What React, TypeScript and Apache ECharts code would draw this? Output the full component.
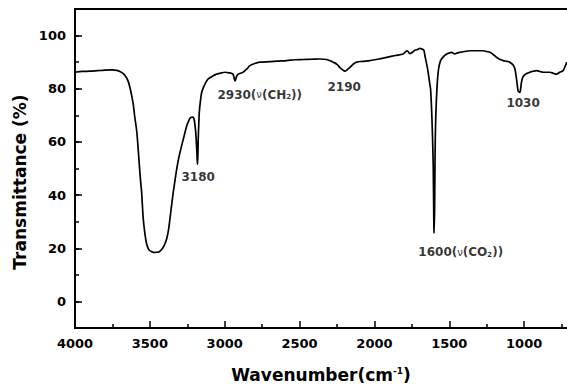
import React, { useEffect, useRef } from "react";
import * as echarts from "echarts";

const wavenumbers = [
  4000, 3950, 3900, 3850, 3800, 3750, 3720, 3700, 3680, 3666, 3650, 3633, 3620, 3611, 3600, 3588, 3577, 3566,
  3555, 3544, 3532, 3521, 3505, 3488, 3470, 3455, 3440, 3421, 3405, 3388, 3375, 3366, 3355, 3344, 3332, 3321,
  3305, 3288, 3270, 3254, 3240, 3228, 3215, 3205, 3198, 3192, 3186, 3182, 3179, 3177, 3173, 3170, 3162, 3154,
  3140, 3125, 3110, 3080, 3054, 3020, 2998, 2970, 2945, 2935, 2930, 2922, 2910, 2880, 2865, 2850, 2832, 2800,
  2765, 2698, 2650, 2587, 2530, 2476, 2420, 2364, 2320, 2290, 2275, 2250, 2231, 2210, 2197, 2185, 2164, 2140,
  2119, 2080, 2030, 1970, 1919, 1860, 1808, 1790, 1780, 1770, 1763, 1745, 1730, 1710, 1697, 1685, 1670, 1663,
  1650, 1641, 1632, 1625, 1618, 1612, 1607, 1603, 1602, 1598, 1595, 1591, 1585, 1578, 1570, 1560, 1552, 1535,
  1518, 1485, 1463, 1445, 1430, 1400, 1363, 1310, 1274, 1250, 1229, 1205, 1184, 1160, 1140, 1115, 1096, 1075,
  1062, 1051, 1040, 1029, 1022, 1018, 1010, 1002, 980, 962, 940, 917, 895, 873, 850, 828, 805, 784, 762, 740,
  724, 715,
];

const transmittance = [
  86.2, 86.5, 86.6, 86.8, 87.0, 87.1, 86.9, 86.5, 85.8, 85.0, 83.5, 80.5, 77.0, 74.2, 69.0, 64.2, 56.6, 48.0,
  41.0, 31.0, 25.0, 21.5, 19.3, 18.7, 18.4, 18.5, 18.6, 19.5, 21.0, 23.5, 27.0, 31.0, 36.0, 41.0, 45.5, 49.7,
  54.5, 58.5, 62.5, 66.0, 68.0, 69.2, 69.3, 68.6, 66.0, 62.3, 56.0, 51.6, 55.0, 61.0, 67.0, 71.0, 75.5, 78.6,
  80.8, 82.5, 83.7, 84.8, 85.5, 86.0, 86.2, 86.0, 85.5, 83.5, 83.0, 84.5, 85.5, 86.1, 86.8, 87.6, 88.7, 89.5,
  90.0, 90.2, 90.4, 90.6, 90.9, 91.0, 91.1, 91.2, 91.0, 90.4, 90.0, 89.2, 88.0, 87.0, 86.6, 87.0, 88.0, 89.3,
  90.0, 90.3, 90.6, 91.2, 91.8, 92.5, 93.1, 94.0, 94.3, 93.6, 93.2, 93.8, 94.5, 94.8, 95.2, 95.0, 94.5, 92.5,
  89.0, 86.2, 82.5, 79.9, 72.0, 62.0, 50.0, 28.3, 25.7, 35.0, 55.0, 68.0, 77.0, 84.0, 88.0, 90.3, 91.2, 92.3,
  93.1, 93.7, 93.1, 93.5, 93.7, 94.0, 94.3, 94.3, 94.3, 94.0, 93.7, 92.8, 91.8, 91.0, 90.6, 90.3, 90.0, 89.0,
  87.5, 83.7, 79.2, 78.6, 80.5, 82.4, 84.2, 84.9, 85.8, 86.2, 86.6, 86.8, 86.5, 86.2, 86.2, 86.2, 85.8, 85.5,
  86.2, 86.8, 88.7, 90.0,
];

const xTickLabels = [4000, 3500, 3000, 2500, 2000, 1500, 1000];
const yTickLabels = [0, 20, 40, 60, 80, 100];

const annotationX = [3292, 3052, 2317, 1122, 1710];
const annotationY = [46.8, 77.7, 80.7, 74.7, 18.5];
const annotationText = [
  "{b|3180}",
  "{b|2930(}{n|ν}{b|(CH}{s|2}{b|))}",
  "{b|2190}",
  "{b|1030}",
  "{b|1600(}{n|ν}{b|(CO}{s|2}{b|))}",
];

const xTitle = "{a|Wavenumber(cm}{s|-1}{a|)}";
const yTitle = "Transmittance (%)";

const FONT = "DejaVu Sans";
const INK = "#000";

export default function App() {
  const ref = useRef<HTMLDivElement>(null);

  useEffect(() => {
    if (!ref.current) return;
    const chart = echarts.init(ref.current, undefined, { renderer: "svg" });

    const lineData = wavenumbers.map((w, i) => [w, transmittance[i]]);
    const annData = annotationX.map((x, i) => ({
      value: [x, annotationY[i]],
      label: { formatter: annotationText[i] },
    }));

    const tickLabelStyle = {
      fontFamily: FONT,
      fontWeight: "bold" as const,
      fontSize: 13,
      color: INK,
    };

    chart.setOption({
      animation: false,
      backgroundColor: "#fff",
      grid: {
        left: 75,
        top: 9,
        right: 21,
        bottom: 58,
        show: true,
        borderColor: INK,
        borderWidth: 2,
        backgroundColor: "transparent",
      },
      xAxis: {
        type: "value",
        min: 500,
        max: 4000,
        interval: 500,
        inverse: true,
        axisLine: { show: true, onZero: false, lineStyle: { color: INK, width: 2 } },
        axisTick: { show: true, inside: true, length: 7, lineStyle: { color: INK, width: 1.5 } },
        minorTick: { show: true, splitNumber: 2, length: 4, lineStyle: { color: INK, width: 1.5 } },
        splitLine: { show: false },
        axisLabel: {
          ...tickLabelStyle,
          margin: 9,
          formatter: (v: number) => (xTickLabels.includes(v) ? String(v) : ""),
        },
      },
      yAxis: [
        {
          type: "value",
          min: -10,
          max: 110,
          interval: 10,
          position: "left",
          axisLine: { show: true, onZero: false, lineStyle: { color: INK, width: 2 } },
          axisTick: { show: true, inside: true, length: 4, lineStyle: { color: INK, width: 1.5 } },
          splitLine: { show: false },
          axisLabel: {
            ...tickLabelStyle,
            margin: 9,
            formatter: (v: number) => (yTickLabels.includes(v) ? String(v) : ""),
          },
        },
        {
          type: "value",
          min: -10,
          max: 110,
          splitNumber: 6,
          position: "left",
          axisLine: { show: false, onZero: false },
          axisTick: { show: true, inside: true, length: 7, lineStyle: { color: INK, width: 1.5 } },
          splitLine: { show: false },
          axisLabel: { show: false },
        },
      ],
      series: [
        {
          type: "line",
          data: lineData,
          yAxisIndex: 0,
          showSymbol: false,
          symbol: "none",
          smooth: 0.3,
          lineStyle: { color: INK, width: 1.7 },
          silent: true,
        },
        {
          type: "scatter",
          data: annData,
          yAxisIndex: 0,
          symbolSize: 1,
          itemStyle: { color: "transparent" },
          silent: true,
          label: {
            show: true,
            position: "right",
            distance: 0,
            color: INK,
            rich: {
              b: { fontFamily: FONT, fontWeight: "bold", fontSize: 12, color: INK },
              n: { fontFamily: FONT, fontWeight: "normal", fontSize: 10, color: INK },
              s: {
                fontFamily: FONT,
                fontWeight: "bold",
                fontSize: 7,
                color: INK,
                verticalAlign: "bottom",
              },
            },
          },
        },
      ],
      graphic: [
        {
          type: "text",
          x: 321,
          y: 375,
          style: {
            text: xTitle,
            align: "center",
            verticalAlign: "middle",
            rich: {
              a: { fontFamily: FONT, fontWeight: "bold", fontSize: 17, fill: INK },
              s: { fontFamily: FONT, fontWeight: "bold", fontSize: 9, fill: INK, verticalAlign: "top" },
            },
          },
        },
        {
          type: "text",
          x: 20,
          y: 182,
          rotation: Math.PI / 2,
          style: {
            text: yTitle,
            align: "center",
            verticalAlign: "middle",
            fontFamily: FONT,
            fontWeight: "bold",
            fontSize: 17,
            fill: INK,
          },
        },
      ],
    });

    return () => chart.dispose();
  }, []);

  return (
    <div
      ref={ref}
      style={{ position: "fixed", left: 0, top: 0, width: 620, height: 386, background: "#fff" }}
    />
  );
}
